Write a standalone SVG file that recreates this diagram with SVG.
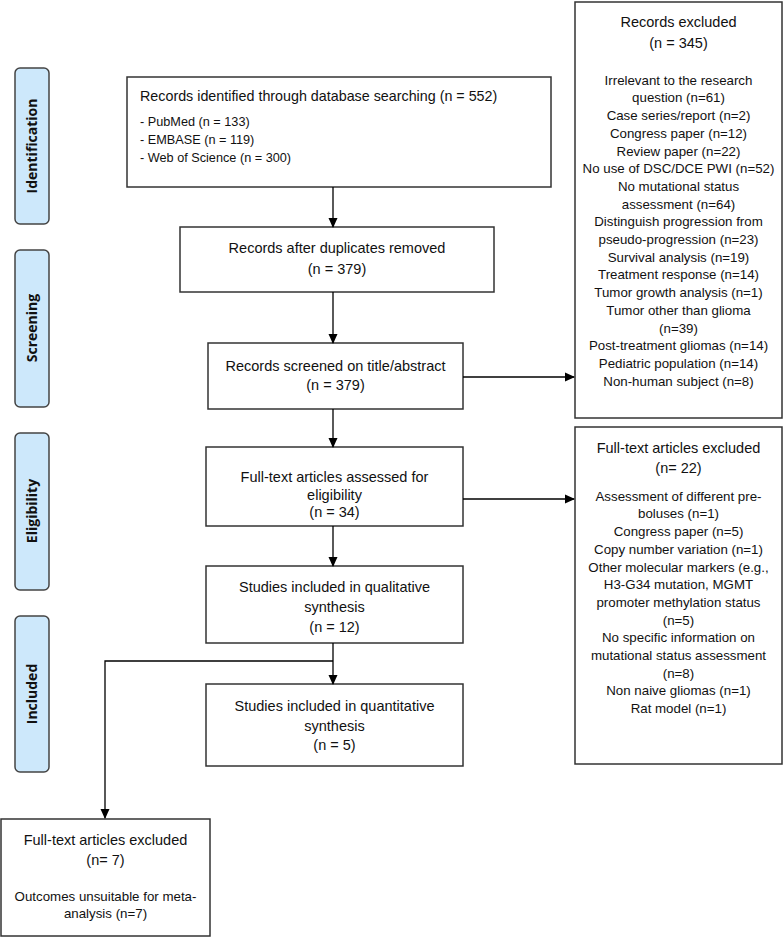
<svg xmlns="http://www.w3.org/2000/svg" width="784" height="937" viewBox="0 0 784 937">
<defs>
<marker id="ah" markerWidth="10" markerHeight="10" refX="9" refY="5" orient="auto" markerUnits="userSpaceOnUse">
<path d="M0,0.5 L10,5 L0,9.5 Z" fill="#000"/>
</marker>
<style>
.box{fill:#fff;stroke:#333;stroke-width:1.5}
.phase{fill:#cde8fb;stroke:#444;stroke-width:1.5}
.pt{font-family:"Open Sans","Liberation Sans",sans-serif;font-weight:bold;font-size:14px;fill:#111;text-anchor:middle}
.t{font-family:"Liberation Sans",Arial,sans-serif;fill:#111}
.h{font-size:14.5px;text-anchor:middle}
.l{font-size:13.3px;text-anchor:middle}
.b{font-size:12.7px}
.c{stroke:#000;stroke-width:1.3;fill:none}
</style>
</defs>
<rect width="784" height="937" fill="#fff"/>

<g id="phase-identification">
<rect class="phase" x="15" y="68" width="34" height="156" rx="5"/>
<text class="pt" transform="translate(37,146) rotate(-90)">Identification</text>
</g>
<g id="phase-screening">
<rect class="phase" x="15" y="250" width="34" height="157" rx="5"/>
<text class="pt" transform="translate(37,328) rotate(-90)">Screening</text>
</g>
<g id="phase-eligibility">
<rect class="phase" x="15" y="433" width="34" height="157" rx="5"/>
<text class="pt" transform="translate(37,511) rotate(-90)">Eligibility</text>
</g>
<g id="phase-included">
<rect class="phase" x="15" y="616" width="34" height="156" rx="5"/>
<text class="pt" transform="translate(37,694) rotate(-90)">Included</text>
</g>

<g id="identified">
<rect class="box" x="127" y="77" width="424" height="110"/>
<text class="t" x="140" y="101" font-size="14.3">Records identified through database searching (n = 552)</text>
<text class="t b" x="140" y="125.5">- PubMed (n = 133)</text>
<text class="t b" x="140" y="143.5">- EMBASE (n = 119)</text>
<text class="t b" x="140" y="161.5">- Web of Science (n = 300)</text>
</g>

<g id="duplicates-removed">
<rect class="box" x="180" y="227" width="314" height="65"/>
<text class="t h" x="337" y="253">Records after duplicates removed</text>
<text class="t h" x="337" y="274">(n = 379)</text>
</g>

<g id="screened">
<rect class="box" x="208" y="343" width="255" height="66"/>
<text class="t h" x="335.5" y="371">Records screened on title/abstract</text>
<text class="t h" x="335.5" y="390">(n = 379)</text>
</g>

<g id="fulltext-assessed">
<rect class="box" x="206" y="447" width="257" height="79"/>
<text class="t h" x="334.5" y="482">Full-text articles assessed for</text>
<text class="t h" x="334.5" y="500">eligibility</text>
<text class="t h" x="334.5" y="517">(n = 34)</text>
</g>

<g id="qualitative">
<rect class="box" x="206" y="566" width="257" height="77"/>
<text class="t h" x="334.5" y="592">Studies included in qualitative</text>
<text class="t h" x="334.5" y="612">synthesis</text>
<text class="t h" x="334.5" y="632">(n = 12)</text>
</g>

<g id="quantitative">
<rect class="box" x="206" y="684" width="257" height="82"/>
<text class="t h" x="334.5" y="711">Studies included in quantitative</text>
<text class="t h" x="334.5" y="731">synthesis</text>
<text class="t h" x="334.5" y="750">(n = 5)</text>
</g>

<g id="records-excluded">
<rect class="box" x="575" y="2" width="207" height="416"/>
<text class="t h" x="678.5" y="27">Records excluded</text>
<text class="t h" x="678.5" y="48">(n = 345)</text>
<text class="t l" x="678.5" y="84.7">Irrelevant to the research</text>
<text class="t l" x="678.5" y="102.4">question (n=61)</text>
<text class="t l" x="678.5" y="120.1">Case series/report (n=2)</text>
<text class="t l" x="678.5" y="137.8">Congress paper (n=12)</text>
<text class="t l" x="678.5" y="155.5">Review paper (n=22)</text>
<text class="t l" x="678.5" y="173.2">No use of DSC/DCE PWI (n=52)</text>
<text class="t l" x="678.5" y="190.9">No mutational status</text>
<text class="t l" x="678.5" y="208.6">assessment (n=64)</text>
<text class="t l" x="678.5" y="226.3">Distinguish progression from</text>
<text class="t l" x="678.5" y="244">pseudo-progression (n=23)</text>
<text class="t l" x="678.5" y="261.7">Survival analysis (n=19)</text>
<text class="t l" x="678.5" y="279.4">Treatment response (n=14)</text>
<text class="t l" x="678.5" y="297.1">Tumor growth analysis (n=1)</text>
<text class="t l" x="678.5" y="314.8">Tumor other than glioma</text>
<text class="t l" x="678.5" y="332.5">(n=39)</text>
<text class="t l" x="678.5" y="350.2">Post-treatment gliomas (n=14)</text>
<text class="t l" x="678.5" y="367.9">Pediatric population (n=14)</text>
<text class="t l" x="678.5" y="385.6">Non-human subject (n=8)</text>
</g>

<g id="fulltext-excluded">
<rect class="box" x="575" y="427" width="207" height="337"/>
<text class="t h" x="678.5" y="453">Full-text articles excluded</text>
<text class="t h" x="678.5" y="473">(n= 22)</text>
<text class="t l" x="678.5" y="500.7">Assessment of different pre-</text>
<text class="t l" x="678.5" y="518.4">boluses (n=1)</text>
<text class="t l" x="678.5" y="536.1">Congress paper (n=5)</text>
<text class="t l" x="678.5" y="553.8">Copy number variation (n=1)</text>
<text class="t l" x="678.5" y="571.5">Other molecular markers (e.g.,</text>
<text class="t l" x="678.5" y="589.2">H3-G34 mutation, MGMT</text>
<text class="t l" x="678.5" y="606.9">promoter methylation status</text>
<text class="t l" x="678.5" y="624.6">(n=5)</text>
<text class="t l" x="678.5" y="642.3">No specific information on</text>
<text class="t l" x="678.5" y="660">mutational status assessment</text>
<text class="t l" x="678.5" y="677.7">(n=8)</text>
<text class="t l" x="678.5" y="695.4">Non naive gliomas (n=1)</text>
<text class="t l" x="678.5" y="713.1">Rat model (n=1)</text>
</g>

<g id="meta-excluded">
<rect class="box" x="1" y="819" width="209" height="117"/>
<text class="t h" x="105.5" y="845">Full-text articles excluded</text>
<text class="t h" x="105.5" y="865">(n= 7)</text>
<text class="t l" x="105.5" y="900.7">Outcomes unsuitable for meta-</text>
<text class="t l" x="105.5" y="917.7">analysis (n=7)</text>
</g>

<g id="connectors">
<line class="c" x1="333" y1="187" x2="333" y2="227" marker-end="url(#ah)"/>
<line class="c" x1="333" y1="292" x2="333" y2="343" marker-end="url(#ah)"/>
<line class="c" x1="463" y1="377" x2="574" y2="377" marker-end="url(#ah)"/>
<line class="c" x1="333" y1="409" x2="333" y2="447" marker-end="url(#ah)"/>
<line class="c" x1="463" y1="499" x2="574" y2="499" marker-end="url(#ah)"/>
<line class="c" x1="333" y1="526" x2="333" y2="566" marker-end="url(#ah)"/>
<line class="c" x1="333" y1="643" x2="333" y2="684" marker-end="url(#ah)"/>
<polyline class="c" points="333,661 105,661 105,818" marker-end="url(#ah)"/>
</g>
</svg>
